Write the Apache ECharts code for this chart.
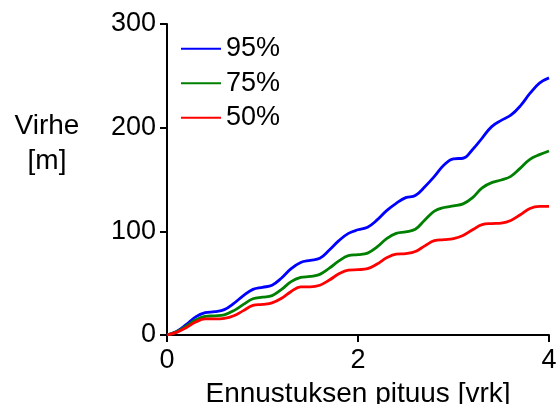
<!DOCTYPE html>
<html>
<head>
<meta charset="utf-8">
<script src="https://cdn.jsdelivr.net/npm/echarts@6/dist/echarts.min.js"></script>
<style>
  html, body { margin: 0; padding: 0; background: #ffffff; }
  #chart { width: 556px; height: 404px; }
</style>
</head>
<body>
<div id="chart"></div>
<script>
// Forecast length in days (vrk)
const days = [0.0, 0.1, 0.2, 0.3, 0.4, 0.5, 0.6, 0.7, 0.8, 0.9,
              1.0, 1.1, 1.2, 1.3, 1.4, 1.5, 1.6, 1.7, 1.8, 1.9,
              2.0, 2.1, 2.2, 2.3, 2.4, 2.5, 2.6, 2.7, 2.8, 2.9,
              3.0, 3.1, 3.2, 3.3, 3.4, 3.5, 3.6, 3.7, 3.8, 3.9, 4.0];

// Error percentiles in metres
const p95 = [0, 3.5, 10, 17.5, 21.5, 22.5, 24.5, 30.5, 38, 44,
             46, 48, 55, 64, 70, 72, 74, 82, 91, 98,
             101.5, 104, 111, 120, 127, 132.5, 134.5, 143, 153, 164,
             170, 170.5, 179, 190, 201, 207, 212, 221, 233, 243, 248];
const p75 = [0, 3, 8.5, 14.5, 18, 18.5, 19.5, 23.5, 29.5, 35,
             36.5, 38, 44, 51.5, 55.5, 56.5, 58.5, 64.5, 71.5, 76.5,
             77.5, 79, 85, 93, 98, 99.5, 102, 111, 119.5, 123,
             124.5, 126.5, 132.5, 142, 147, 149.5, 153, 161, 169.5, 174, 177.5];
const p50 = [0, 2.5, 7, 12.5, 15.5, 15.5, 16, 18.5, 23.5, 28.5,
             29.5, 31, 35.5, 42, 46.5, 46.5, 48, 53, 59, 62.5,
             63, 64, 68.5, 74.5, 78, 78.5, 80.5, 86, 91, 92,
             93, 96, 101.5, 106.5, 107.5, 108, 110.5, 116, 122, 124, 124];

const seriesNames = ['95%', '75%', '50%'];
const seriesColors = ['#0000ff', '#008000', '#ff0000'];
const seriesValues = [p95, p75, p50];

const xTicks = { min: 0, max: 4, interval: 2 };
const yTicks = { min: 0, max: 300, interval: 100 };

const FONT = '"Liberation Sans", Arial, Helvetica, sans-serif';
const FS = 27;

const chart = echarts.init(document.getElementById('chart'), null, { renderer: 'canvas' });

const axisCommon = {
  axisLine: { show: true, onZero: false, lineStyle: { color: '#000', width: 2 } },
  axisTick: { show: true, inside: false, length: 7, lineStyle: { color: '#000', width: 2 } },
  splitLine: { show: false },
  axisLabel: { color: '#000', fontSize: FS, fontFamily: FONT }
};

chart.setOption({
  animation: false,
  backgroundColor: '#ffffff',
  grid: { left: 167, right: 7, top: 24, bottom: 69, containLabel: false, outerBoundsMode: 'none' },
  legend: {
    orient: 'vertical',
    left: 181,
    top: 34,
    padding: 0,
    icon: 'rect',
    itemWidth: 40,
    itemHeight: 2,
    itemGap: 5,
    textStyle: { color: '#000', fontSize: FS, fontFamily: FONT, lineHeight: 29.5 },
    data: seriesNames
  },
  xAxis: Object.assign({}, axisCommon, {
    type: 'value',
    min: xTicks.min, max: xTicks.max, interval: xTicks.interval,
    name: 'Ennustuksen pituus [vrk]',
    nameLocation: 'middle',
    nameGap: 45,
    nameTextStyle: { color: '#000', fontSize: 28, fontFamily: FONT, verticalAlign: 'top' },
    axisLabel: Object.assign({}, axisCommon.axisLabel, { margin: 12 })
  }),
  yAxis: Object.assign({}, axisCommon, {
    type: 'value',
    min: yTicks.min, max: yTicks.max, interval: yTicks.interval,
    axisLabel: Object.assign({}, axisCommon.axisLabel, { margin: 11 })
  }),
  graphic: [{
    type: 'text',
    x: 47,
    y: 109,
    style: {
      text: 'Virhe\n[m]',
      fill: '#000',
      fontSize: 28,
      fontFamily: FONT,
      align: 'center',
      lineHeight: 35
    }
  }],
  series: seriesNames.map((name, i) => ({
    name: name,
    type: 'line',
    smooth: 0.4,
    showSymbol: false,
    symbol: 'none',
    color: seriesColors[i],
    lineStyle: { color: seriesColors[i], width: 2.8 },
    data: days.map((d, j) => [d, seriesValues[i][j]])
  }))
});
</script>
</body>
</html>
